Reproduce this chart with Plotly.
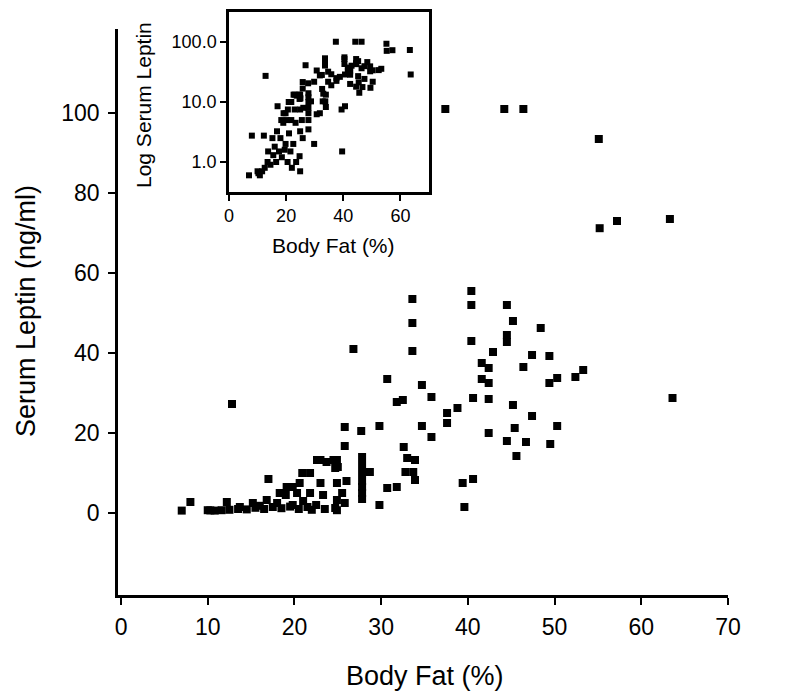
import plotly.graph_objects as go

# ---- data (body fat %, serum leptin ng/ml) ----
body_fat = [
    37.4, 44.2, 46.4, 55.1, 55.2, 57.2, 63.3,
    33.6, 33.6, 33.6, 26.8, 30.7, 34.7, 35.8, 37.6, 12.8, 25.8, 27.7, 29.8, 34.7, 35.8,
    25.8, 32.6, 33.9, 24.5, 23.0, 33.7, 33.9, 31.8, 30.7, 29.8, 17.0, 8.0, 7.0, 10.3,
    40.4, 40.4, 44.5, 45.2, 48.4, 44.5, 44.5, 40.4, 42.9, 47.4, 49.4, 41.6, 42.4, 46.4,
    53.3, 52.4, 50.3, 49.4, 41.6, 42.4, 40.6, 42.4, 45.2, 63.6, 31.8, 32.5, 38.8, 37.6,
    47.4, 50.3, 45.4, 42.4, 44.5, 46.7, 49.5, 45.6, 32.8, 40.6, 39.4, 39.6, 28.7,
    27.8, 27.8, 27.8, 27.8, 27.8, 27.8, 27.8,
    22.6, 23.7, 24.9, 24.7, 20.9, 20.6, 23.0, 24.9, 20.3, 21.8, 23.3, 24.9, 19.8, 21.5,
    24.7, 25.8, 24.9, 33.0,
    10.0, 10.8, 11.6, 12.5, 13.5, 14.5, 15.5, 16.5, 17.5, 18.5, 19.5, 20.5, 19.0, 19.8,
    25.0, 21.8, 19.1, 18.3, 16.8, 15.2, 13.7, 12.2,
    21.0, 22.5, 23.5, 22.0, 25.5, 26.0, 18.0, 16.0,
]
leptin = [
    101, 101, 101, 93.5, 71.2, 73, 73.5,
    53.5, 47.5, 40.5, 41, 33.5, 32, 29, 25, 27.25, 21.5, 20.5, 21.75, 21.75, 19,
    16.75, 16.5, 13.25, 13.25, 13.25, 10.25, 8.25, 6.5, 6.25, 2, 8.5, 2.75, 0.6, 0.65,
    55.5, 52, 52, 48, 46.25, 44.5, 42.75, 43, 40.25, 39.5, 39.25, 37.5, 36.25, 36.5,
    35.75, 34, 33.75, 32.5, 33.5, 32.5, 28.75, 28.5, 27, 28.75, 27.75, 28.25, 26.25, 22.5,
    24.25, 21.75, 21.25, 20, 18, 17.75, 17.25, 14.25, 10.25, 8.5, 7.5, 1.5, 10.25,
    3.5, 5, 6.5, 8, 10, 12, 14,
    13.25, 12.75, 13.25, 11.25, 10, 7.5, 7.5, 7.5, 5, 5, 4.5, 3.25, 2, 1.5,
    1.25, 2.5, 0.7, 13.75,
    0.7, 0.6, 0.7, 0.8, 1.0, 0.9, 1.3, 1.0, 1.5, 1.2, 1.6, 1.0, 4.5, 6.5,
    11.5, 10, 6.5, 5, 3.25, 2.5, 1.5, 2.75,
    3.0, 2.0, 1.0, 0.8, 5.0, 8.0, 2.5, 1.8,
]

x_ticks = [0, 10, 20, 30, 40, 50, 60, 70]
y_ticks = [0, 20, 40, 60, 80, 100]
inset_x_ticks = [0, 20, 40, 60]
inset_y_ticks = [1, 10, 100]
inset_y_labels = ["1.0", "10.0", "100.0"]

W, H = 802, 692
FONT = "Liberation Sans, Arial, Helvetica, sans-serif"


def px_x(p):
    return p / W


def px_y(p):
    return 1 - p / H


fig = go.Figure()
fig.add_trace(go.Scatter(
    x=body_fat, y=leptin, mode="markers",
    marker=dict(symbol="square", size=8, color="black", line=dict(width=0)),
    xaxis="x", yaxis="y", hoverinfo="x+y",
))
fig.add_trace(go.Scatter(
    x=body_fat, y=leptin, mode="markers",
    marker=dict(symbol="square", size=6, color="black", line=dict(width=0)),
    xaxis="x2", yaxis="y2", hoverinfo="x+y",
))

axis_common = dict(
    showgrid=False, zeroline=False, showline=True, linecolor="black",
    ticks="outside", tickcolor="black", automargin=False,
)

fig.update_layout(
    width=W, height=H,
    margin=dict(l=0, r=0, t=0, b=0),
    paper_bgcolor="white", plot_bgcolor="white",
    showlegend=False,
    font=dict(family=FONT, color="black"),
    xaxis=dict(
        domain=[px_x(118), px_x(728)], range=[-0.35, 70],
        tickvals=x_ticks, ticklen=7, tickwidth=2, linewidth=2.5,
        tickfont=dict(size=23), anchor="y", ticklabelstandoff=3,
        **axis_common,
    ),
    yaxis=dict(
        domain=[px_y(595), px_y(29)], range=[-20.5, 121],
        tickvals=y_ticks, ticklen=7, tickwidth=2, linewidth=2.5,
        tickfont=dict(size=23), anchor="x", ticklabelstandoff=4,
        **axis_common,
    ),
    xaxis2=dict(
        domain=[px_x(229), px_x(429)], range=[0, 70],
        tickvals=inset_x_ticks, ticklen=6, tickwidth=1.5, linewidth=2.5,
        mirror=True, tickfont=dict(size=18), anchor="y2",
        **axis_common,
    ),
    yaxis2=dict(
        domain=[px_y(192), px_y(12)], type="log", range=[-0.5, 2.5],
        tickvals=inset_y_ticks, ticktext=inset_y_labels,
        ticklen=6, tickwidth=1.5, linewidth=2.5,
        mirror=True, tickfont=dict(size=18), anchor="x2",
        **axis_common,
    ),
    annotations=[
        dict(text="Body Fat (%)", x=px_x(425), y=px_y(676), xref="paper", yref="paper",
             showarrow=False, xanchor="center", yanchor="middle", font=dict(size=27)),
        dict(text="Serum Leptin (ng/ml)", x=px_x(26), y=px_y(311), xref="paper", yref="paper",
             showarrow=False, xanchor="center", yanchor="middle", textangle=-90,
             font=dict(size=27)),
        dict(text="Body Fat (%)", x=px_x(333), y=px_y(245), xref="paper", yref="paper",
             showarrow=False, xanchor="center", yanchor="middle", font=dict(size=21)),
        dict(text="Log Serum Leptin", x=px_x(143), y=px_y(105), xref="paper", yref="paper",
             showarrow=False, xanchor="center", yanchor="middle", textangle=-90,
             font=dict(size=21)),
    ],
)

fig.write_html("out.html")
